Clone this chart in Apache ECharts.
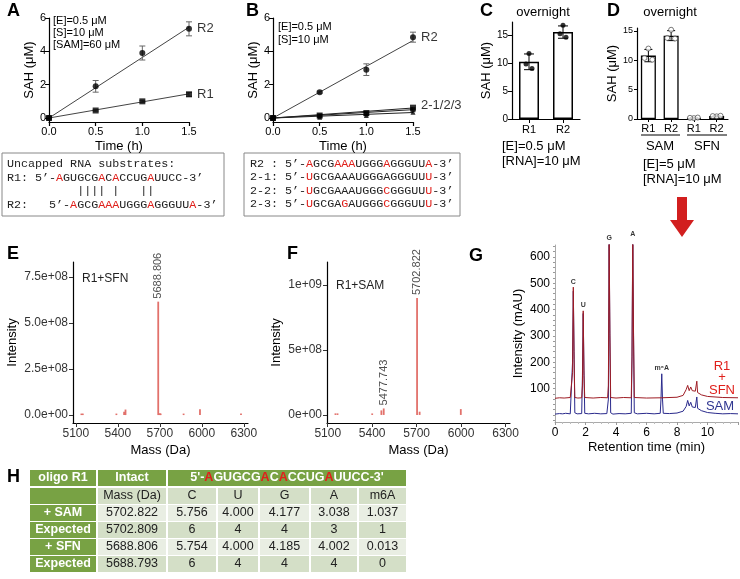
<!DOCTYPE html>
<html><head><meta charset="utf-8">
<script src="https://cdn.jsdelivr.net/npm/echarts@6/dist/echarts.min.js"></script>
<style>html,body{margin:0;padding:0;background:#fff}#c{width:740px;height:579px}</style>
</head><body><div id="c"></div>
<script>
// ---------------- DATA ----------------
const timeH = [0, 0.5, 1.0, 1.5];
const fitT = [0, 1.5];
// Panel A
const aR2 = [0, 1.9, 3.9, 5.35];
const aR2Err = [0, 0.35, 0.42, 0.42];
const aR1 = [0, 0.45, 1.0, 1.42];
const aR1Err = [0, 0.04, 0.06, 0.12];
const aFitR2 = [0, 5.45];
const aFitR1 = [0, 1.45];
// Panel B
const bR2 = [0, 1.55, 2.9, 4.85];
const bR2Err = [0, 0.06, 0.35, 0.3];
const b21 = [0, 0.15, 0.3, 0.62];
const b22 = [0, 0.12, 0.25, 0.5];
const b23 = [0, 0.05, 0.15, 0.35];
const bFitR2 = [0, 4.65];
const bFit21 = [0, 0.6];
const bFit22 = [0, 0.5];
const bFit23 = [0, 0.33];
// Panel C
const cCats = ['R1', 'R2'];
const cMean = [10.2, 15.5];
const cSD = [1.4, 1.1];
const cReps = [[11.7, 9.8, 9.0], [16.7, 15.2, 14.6]];
// Panel D
const dGroups = ['SAM', 'SFN'];
const dCats = ['SAM R1', 'SAM R2', 'SFN R1', 'SFN R2'];
const dMean = [10.8, 14.2, 0.2, 0.5];
const dSD = [1.05, 0.85, 0.05, 0.06];
const dReps = [[12.0, 10.4, 10.1], [15.2, 13.8, 13.7], [0.15, 0.2, 0.25], [0.45, 0.5, 0.55]];
// Panel E (R1+SFN) mass spectrum peaks [mass, intensity]
const ePeaks = [[5140, 7e6], [5150, 7e6], [5390, 5e6], [5445, 1.8e7], [5455, 3.0e7], [5688.806, 6.15e8],
  [5700, 1.0e7], [5706, 8e6], [5870, 5e6], [5987, 3.2e7], [6280, 5e6]];
const eLabels = [[5688.806, 6.15e8, '5688.806']];
// Panel F (R1+SAM)
const fPeaks = [[5152, 1.2e7], [5166, 1.2e7], [5400, 6e6], [5462, 3.5e7], [5477.743, 5.0e7], [5702.822, 9.0e8],
  [5720, 2.5e7], [5998, 4.5e7]];
const fLabels = [[5702.822, 9.0e8, '5702.822'], [5477.743, 5.0e7, '5477.743']];
const massTicks = [5100, 5400, 5700, 6000, 6300];
// Panel G chromatograms [time (min), intensity (mAU)]
const gSAM = [[0,3],[0.3,5],[0.5,4],[0.7,6],[1.0,4],[1.1,6],[1.15,200],[1.2,470],[1.25,240],[1.3,8],[1.45,4],
  [1.75,5],[1.8,150],[1.85,385],[1.9,170],[1.95,6],[2.2,4],[2.6,6],[3.0,4],[3.4,5],[3.5,60],[3.55,660],[3.6,300],
  [3.65,8],[3.8,3],[4.2,5],[4.6,4],[5.0,6],[5.05,220],[5.1,670],[5.15,300],[5.2,8],[5.4,4],[6.0,6],[6.5,4],[6.9,6],
  [6.95,60],[7.0,156],[7.05,60],[7.1,6],[7.5,5],[8.0,7],[8.4,14],[8.6,32],[8.7,55],[8.8,34],[8.9,48],[9.0,30],
  [9.1,36],[9.2,28],[9.3,68],[9.35,25],[9.6,16],[10.0,9],[10.5,6],[11.0,4],[11.5,5],[12.0,4]];
const gSFN = [[0,63],[0.3,65],[0.6,64],[1.0,66],[1.1,65],[1.15,160],[1.2,485],[1.25,210],[1.3,66],[1.5,64],
  [1.75,65],[1.8,110],[1.85,395],[1.9,150],[1.95,66],[2.5,64],[3.0,66],[3.45,65],[3.5,110],[3.55,680],[3.6,310],
  [3.65,66],[4.0,64],[4.5,66],[5.0,65],[5.05,220],[5.1,690],[5.15,310],[5.2,66],[6.0,64],[7.0,65],[8.0,67],
  [8.4,74],[8.6,96],[8.7,112],[8.8,92],[8.9,106],[9.0,92],[9.1,96],[9.2,90],[9.3,128],[9.35,85],[9.6,76],
  [10.0,70],[11.0,66],[12.0,65]];
const gPeakLabels = [[1.2, 485, 'C'], [1.85, 395, 'U'], [3.55, 650, 'G'], [5.1, 665, 'A'], [7.0, 156, 'm⁶A']];
// Panel H table
const tblTop = ['oligo R1', 'Intact'];
const tblSeq = 'AGUGCGACACCUGAUUCC';
const tblSeqRed = [0, 6, 8, 13];
const tblHead = ['', 'Mass (Da)', 'C', 'U', 'G', 'A', 'm6A'];
const tblRowLabels = ['+ SAM', 'Expected', '+ SFN', 'Expected'];
const tblMass = ['5702.822', '5702.809', '5688.806', '5688.793'];
const tblC = ['5.756', '6', '5.754', '6'];
const tblU = ['4.000', '4', '4.000', '4'];
const tblG = ['4.177', '4', '4.185', '4'];
const tblA = ['3.038', '3', '4.002', '4'];
const tblM6A = ['1.037', '1', '0.013', '0'];
// Sequences (boxes)
const seqR1 = 'AGUGCGACACCUGAUUCC', redR1 = [0, 6, 8, 13];
const seqR2 = 'AGCGAAAUGGGAGGGUUA', redR2 = [0, 4, 5, 6, 11, 17];
const seq21 = 'UGCGAAAUGGGAGGGUUU', red21 = [0, 17];
const seq22 = 'UGCGAAAUGGGCGGGUUU', red22 = [0, 11, 17];
const seq23 = 'UGCGAGAUGGGCGGGUUU', red23 = [0, 5, 11, 17];

// ---------------- STYLE / HELPERS ----------------
const FONT = 'Liberation Sans';
const RED = '#e0201b';
const MONO = '11.7px "Liberation Mono"';
const jitter = [0, -3, 3];

function pairs(xs, ys) { return xs.map((x, i) => [x, ys[i]]); }
function triples(xs, ys, es) { return xs.map((x, i) => [x, ys[i], es[i]]); }

function gpX(grid, extra) {
  return Object.assign({
    gridIndex: grid, type: 'value',
    axisLine: { show: true, onZero: false, lineStyle: { color: '#000', width: 1.2 } },
    axisTick: { show: true, length: 4, lineStyle: { color: '#000', width: 1.2 } },
    axisLabel: { color: '#000', fontSize: 11, fontFamily: FONT, margin: 4 },
    splitLine: { show: false },
    nameTextStyle: { color: '#000', fontSize: 13, fontFamily: FONT }
  }, extra);
}

function errRender(color, cap) {
  return function (params, api) {
    const x = api.value(0), y = api.value(1), e = api.value(2);
    if (!e) return null;
    const t = api.coord([x, y + e]), b = api.coord([x, y - e]);
    const st = { stroke: color, lineWidth: 1 };
    return { type: 'group', children: [
      { type: 'line', shape: { x1: t[0], y1: t[1], x2: b[0], y2: b[1] }, style: st },
      { type: 'line', shape: { x1: t[0] - cap, y1: t[1], x2: t[0] + cap, y2: t[1] }, style: st },
      { type: 'line', shape: { x1: b[0] - cap, y1: b[1], x2: b[0] + cap, y2: b[1] }, style: st }
    ] };
  };
}

function stickRender(params, api) {
  const p0 = api.coord([api.value(0), 0]);
  const p1 = api.coord([api.value(0), api.value(1)]);
  const h = Math.max(p0[1] - p1[1], 1.5);
  return { type: 'rect', shape: { x: p0[0] - 0.9, y: p0[1] - h, width: 1.8, height: h }, style: { fill: '#e2716b' } };
}

function sci(digits) {
  return function (v) {
    return v.toExponential(digits).replace(/e([+-])(\d)$/, 'e$10$2');
  };
}

function richSeq(prefix, seq, red, suffix) {
  let s = prefix;
  for (let i = 0; i < seq.length; i++) s += red.indexOf(i) >= 0 ? '{r|' + seq[i] + '}' : seq[i];
  return s + suffix;
}

function txt(x, y, text, font, fill, align, valign, rot) {
  return { type: 'text', x: x, y: y, rotation: rot || 0,
    style: { text: text, font: font, fill: fill || '#000', align: align || 'left', textAlign: align || 'left',
      verticalAlign: valign || 'middle', textVerticalAlign: valign || 'middle' } };
}
function richTxt(x, y, text, font, fill, redFont, align) {
  return { type: 'text', x: x, y: y,
    style: { text: text, font: font, fill: fill, align: align || 'left', textAlign: align || 'left',
      verticalAlign: 'middle', textVerticalAlign: 'middle', rich: { r: { fill: RED, font: redFont || font } } } };
}

// ---------------- GRAPHIC ----------------
const graphics = [];
const LET = 'bold 18px "Liberation Sans"';
graphics.push(txt(7, 11, 'A', LET), txt(246, 11, 'B', LET), txt(480, 11, 'C', LET), txt(607, 11, 'D', LET),
  txt(7, 254, 'E', LET), txt(287, 254, 'F', LET), txt(469, 256, 'G', LET), txt(7, 477, 'H', LET));
const SM = '11px "Liberation Sans"';
graphics.push(txt(53, 21, '[E]=0.5 μM', SM), txt(53, 33, '[S]=10 μM', SM), txt(53, 45, '[SAM]=60 μM', SM));
graphics.push(txt(278, 27, '[E]=0.5 μM', SM), txt(278, 40, '[S]=10 μM', SM));
const MD = '13px "Liberation Sans"';
graphics.push(txt(543, 12, 'overnight', MD, '#000', 'center'), txt(670, 12, 'overnight', MD, '#000', 'center'));
graphics.push(txt(502, 146, '[E]=0.5 μM', MD), txt(502, 161, '[RNA]=10 μM', MD));
graphics.push(txt(643, 164, '[E]=5 μM', MD), txt(643, 179, '[RNA]=10 μM', MD));
// D group underlines and labels
graphics.push({ type: 'line', shape: { x1: 641, y1: 135, x2: 680, y2: 135 }, style: { stroke: '#000', lineWidth: 1 } });
graphics.push({ type: 'line', shape: { x1: 687, y1: 135, x2: 727, y2: 135 }, style: { stroke: '#000', lineWidth: 1 } });
graphics.push(txt(660, 146, dGroups[0], MD, '#000', 'center'), txt(707, 146, dGroups[1], MD, '#000', 'center'));
// Red arrow
graphics.push({ type: 'polygon', shape: { points: [[677, 197], [687, 197], [687, 220], [694, 220], [682, 237], [670, 220], [677, 220]] },
  style: { fill: '#d21f1f' } });
// Sequence boxes
graphics.push({ type: 'rect', shape: { x: 2, y: 153, width: 222, height: 63 }, style: { fill: 'none', stroke: '#888', lineWidth: 1 } });
graphics.push({ type: 'rect', shape: { x: 244, y: 153, width: 216, height: 63 }, style: { fill: 'none', stroke: '#888', lineWidth: 1 } });
graphics.push(txt(7, 164, 'Uncapped RNA substrates:', MONO, '#222'));
graphics.push(richTxt(7, 178, richSeq('R1: 5’-', seqR1, redR1, '-3’'), MONO, '#222'));
graphics.push(txt(7, 191, '          |||| |   ||', MONO, '#222'));
graphics.push(richTxt(7, 205, richSeq('R2:   5’-', seqR2, redR2, '-3’'), MONO, '#222'));
graphics.push(richTxt(250, 164, richSeq('R2 : 5’-', seqR2, redR2, '-3’'), MONO, '#222'));
graphics.push(richTxt(250, 177, richSeq('2-1: 5’-', seq21, red21, '-3’'), MONO, '#222'));
graphics.push(richTxt(250, 191, richSeq('2-2: 5’-', seq22, red22, '-3’'), MONO, '#222'));
graphics.push(richTxt(250, 204, richSeq('2-3: 5’-', seq23, red23, '-3’'), MONO, '#222'));
// E / F sample labels
graphics.push(txt(82, 279, 'R1+SFN', '12px "Liberation Sans"', '#222'));
graphics.push(txt(336, 286, 'R1+SAM', '12px "Liberation Sans"', '#222'));
// G legend text
graphics.push(txt(722, 366, 'R1', MD, RED, 'center'), txt(722, 377, '+', MD, RED, 'center'),
  txt(722, 390, 'SFN', MD, RED, 'center'), txt(720, 406, 'SAM', MD, '#2f3590', 'center'));
// Table H
(function () {
  const cols = [29, 97, 167, 217, 259, 310, 358, 407];
  const rowsY = [470, 488, 505, 522, 539, 556];
  const rh = 16;
  const DARK = '#78a244', L1 = '#d4dfc7', L2 = '#e9eee3';
  const BF = 'bold 12.5px "Liberation Sans"', NF = '12.5px "Liberation Sans"';
  function cell(c0, c1, r, fill) {
    graphics.push({ type: 'rect', shape: { x: cols[c0] + 1, y: rowsY[r], width: cols[c1] - cols[c0] - 2, height: rh }, style: { fill: fill } });
  }
  cell(0, 1, 0, DARK); cell(1, 2, 0, DARK); cell(2, 7, 0, DARK);
  graphics.push(txt((cols[0] + cols[1]) / 2, rowsY[0] + 8, tblTop[0], BF, '#fff', 'center'));
  graphics.push(txt((cols[1] + cols[2]) / 2, rowsY[0] + 8, tblTop[1], BF, '#fff', 'center'));
  graphics.push(richTxt((cols[2] + cols[7]) / 2, rowsY[0] + 8, richSeq("5'-", tblSeq, tblSeqRed, "-3'"), BF, '#fff', BF, 'center'));
  for (let c = 0; c < 7; c++) {
    cell(c, c + 1, 1, c === 0 ? DARK : L1);
    if (tblHead[c]) graphics.push(txt((cols[c] + cols[c + 1]) / 2, rowsY[1] + 8, tblHead[c], NF, '#222', 'center'));
  }
  const colsData = [tblMass, tblC, tblU, tblG, tblA, tblM6A];
  for (let r = 0; r < 4; r++) {
    const fill = r % 2 === 0 ? L2 : L1;
    cell(0, 1, r + 2, DARK);
    graphics.push(txt((cols[0] + cols[1]) / 2, rowsY[r + 2] + 8, tblRowLabels[r], BF, '#fff', 'center'));
    for (let c = 0; c < 6; c++) {
      cell(c + 1, c + 2, r + 2, fill);
      graphics.push(txt((cols[c + 1] + cols[c + 2]) / 2, rowsY[r + 2] + 8, colsData[c][r], NF, '#222', 'center'));
    }
  }
})();

// ---------------- AXES ----------------
const fmt1 = v => v.toFixed(1);
const plain = v => String(v);
const ggLine = { show: true, onZero: false, lineStyle: { color: '#000', width: 1.2 } };
const ggTick = { show: true, length: 4, lineStyle: { color: '#333', width: 1 } };
const ggLab = { color: '#333', fontSize: 12, fontFamily: FONT, margin: 5 };
const ggName = { color: '#000', fontSize: 13, fontFamily: FONT };
const gLine = { show: true, onZero: false, lineStyle: { color: '#aaa', width: 1 } };

const xAxes = [
  gpX(0, { min: 0, max: 1.5, interval: 0.5, axisLabel: { color: '#000', fontSize: 11, fontFamily: FONT, margin: 4, formatter: fmt1 },
    name: 'Time (h)', nameLocation: 'middle', nameGap: 18 }),
  gpX(1, { min: 0, max: 1.5, interval: 0.5, axisLabel: { color: '#000', fontSize: 11, fontFamily: FONT, margin: 4, formatter: fmt1 },
    name: 'Time (h)', nameLocation: 'middle', nameGap: 18 }),
  gpX(2, { type: 'category', data: cCats, axisTick: { show: true, alignWithLabel: true, length: 4, lineStyle: { color: '#000' } },
    axisLabel: { color: '#000', fontSize: 11, fontFamily: FONT, margin: 5 } }),
  gpX(3, { type: 'category', data: dCats, axisTick: { show: true, alignWithLabel: true, length: 3, lineStyle: { color: '#000' } },
    axisLabel: { color: '#000', fontSize: 11, fontFamily: FONT, margin: 4, interval: 0, formatter: v => v.split(' ')[1] } }),
  { gridIndex: 4, type: 'value', min: 5080, max: 6330, axisLine: ggLine, axisTick: Object.assign({ customValues: massTicks }, ggTick),
    axisLabel: Object.assign({ customValues: massTicks, formatter: plain }, ggLab), splitLine: { show: false },
    name: 'Mass (Da)', nameLocation: 'middle', nameGap: 21, nameTextStyle: ggName },
  { gridIndex: 5, type: 'value', min: 5095, max: 6330, axisLine: ggLine, axisTick: Object.assign({ customValues: massTicks }, ggTick),
    axisLabel: Object.assign({ customValues: massTicks, formatter: plain }, ggLab), splitLine: { show: false },
    name: 'Mass (Da)', nameLocation: 'middle', nameGap: 21, nameTextStyle: ggName },
  { gridIndex: 6, type: 'value', min: 0, max: 12, interval: 2, axisLine: gLine,
    axisTick: { show: true, length: 3, lineStyle: { color: '#999' } }, minorTick: { show: true, splitNumber: 4, length: 2, lineStyle: { color: '#bbb' } },
    axisLabel: { customValues: [0, 2, 4, 6, 8, 10], color: '#000', fontSize: 12, fontFamily: FONT, margin: 5 }, splitLine: { show: false },
    name: 'Retention time (min)', nameLocation: 'middle', nameGap: 19, nameTextStyle: ggName }
];
const gTicks = [];
for (let v = -20; v <= 640; v += 20) gTicks.push(v);
const yAxes = [
  gpX(0, { min: -0.24, max: 6, axisTick: { show: true, length: 4, customValues: [0, 2, 4, 6], lineStyle: { color: '#000' } },
    axisLabel: { customValues: [0, 2, 4, 6], color: '#000', fontSize: 11, fontFamily: FONT, margin: 3 },
    name: 'SAH (μM)', nameLocation: 'middle', nameGap: 13 }),
  gpX(1, { min: -0.24, max: 6, axisTick: { show: true, length: 4, customValues: [0, 2, 4, 6], lineStyle: { color: '#000' } },
    axisLabel: { customValues: [0, 2, 4, 6], color: '#000', fontSize: 11, fontFamily: FONT, margin: 3 },
    name: 'SAH (μM)', nameLocation: 'middle', nameGap: 13 }),
  gpX(2, { min: 0, max: 17.3, axisTick: { show: true, length: 4, customValues: [0, 5, 10, 15], lineStyle: { color: '#000' } },
    axisLabel: { customValues: [0, 5, 10, 15], color: '#000', fontSize: 10, fontFamily: FONT, margin: 4 },
    name: 'SAH (μM)', nameLocation: 'middle', nameGap: 16 }),
  gpX(3, { min: 0, max: 15.5, axisTick: { show: true, length: 3, customValues: [0, 5, 10, 15], lineStyle: { color: '#000' } },
    axisLabel: { customValues: [0, 5, 10, 15], color: '#000', fontSize: 9, fontFamily: FONT, margin: 4 },
    name: 'SAH (μM)', nameLocation: 'middle', nameGap: 17 }),
  { gridIndex: 4, type: 'value', min: -4.3e7, max: 8.3e8, axisLine: ggLine,
    axisTick: Object.assign({ customValues: [0, 2.5e8, 5e8, 7.5e8] }, ggTick),
    axisLabel: Object.assign({ customValues: [0, 2.5e8, 5e8, 7.5e8], formatter: sci(1) }, ggLab), splitLine: { show: false },
    name: 'Intensity', nameLocation: 'middle', nameGap: 54, nameTextStyle: ggName },
  { gridIndex: 5, type: 'value', min: -6.2e7, max: 1.177e9, axisLine: ggLine,
    axisTick: Object.assign({ customValues: [0, 5e8, 1e9] }, ggTick),
    axisLabel: Object.assign({ customValues: [0, 5e8, 1e9], formatter: sci(0) }, ggLab), splitLine: { show: false },
    name: 'Intensity', nameLocation: 'middle', nameGap: 44, nameTextStyle: ggName },
  { gridIndex: 6, type: 'value', min: -27, max: 645, axisLine: gLine,
    axisTick: { show: true, length: 2, customValues: gTicks, lineStyle: { color: '#999' } },
    axisLabel: { customValues: [100, 200, 300, 400, 500, 600], color: '#000', fontSize: 12, fontFamily: FONT, margin: 5 },
    splitLine: { show: false },
    name: 'Intensity (mAU)', nameLocation: 'middle', nameGap: 30, nameTextStyle: ggName }
];

// ---------------- SERIES ----------------
const series = [];
function fitLine(ax, ys, color) {
  series.push({ type: 'line', xAxisIndex: ax, yAxisIndex: ax, data: pairs(fitT, ys), symbol: 'none',
    lineStyle: { color: color || '#444', width: 1 }, z: 2, silent: true });
}
function errSeries(ax, ys, es, color, cap) {
  series.push({ type: 'custom', xAxisIndex: ax, yAxisIndex: ax, data: triples(timeH, ys, es), renderItem: errRender(color, cap), z: 3 });
}
function pts(ax, ys, symbol, size, label, labelOffY) {
  const d = pairs(timeH, ys).map((p, i) => {
    const o = { value: p };
    if (label && i === ys.length - 1) o.label = { show: true, position: 'right', distance: 5, offset: [0, labelOffY || 0],
      formatter: label, color: '#000', fontSize: 13, fontFamily: FONT };
    return o;
  });
  series.push({ type: 'scatter', xAxisIndex: ax, yAxisIndex: ax, data: d, symbol: symbol, symbolSize: size,
    itemStyle: { color: '#000' }, z: 4 });
}
// A
fitLine(0, aFitR2); fitLine(0, aFitR1);
errSeries(0, aR2, aR2Err, '#666', 3); errSeries(0, aR1, aR1Err, '#666', 3);
pts(0, aR2, 'circle', 6, 'R2'); pts(0, aR1, 'rect', 6, 'R1');
// B
fitLine(1, bFitR2); fitLine(1, bFit21, '#222'); fitLine(1, bFit22, '#222'); fitLine(1, bFit23, '#222');
errSeries(1, bR2, bR2Err, '#666', 3);
pts(1, bR2, 'circle', 6, 'R2'); pts(1, b21, 'rect', 6, '2-1/2/3', -2); pts(1, b22, 'rect', 5); pts(1, b23, 'triangle', 5);
// C
series.push({ type: 'bar', xAxisIndex: 2, yAxisIndex: 2, data: cMean, barWidth: 20,
  itemStyle: { color: '#fff', borderColor: '#000', borderWidth: 1.5 }, z: 2 });
series.push({ type: 'custom', xAxisIndex: 2, yAxisIndex: 2, data: cMean.map((m, i) => [i, m, cSD[i]]), renderItem: errRender('#000', 5), z: 3 });
series.push({ type: 'scatter', xAxisIndex: 2, yAxisIndex: 2, symbolSize: 5, itemStyle: { color: '#000' }, z: 4,
  data: [].concat.apply([], cReps.map((arr, i) => arr.map((v, j) => ({ value: [i, v], symbolOffset: [jitter[j], 0] })))) });
// D
series.push({ type: 'bar', xAxisIndex: 3, yAxisIndex: 3, data: dMean, barWidth: 15,
  itemStyle: { color: '#fff', borderColor: '#000', borderWidth: 1.3 }, z: 2 });
series.push({ type: 'custom', xAxisIndex: 3, yAxisIndex: 3, data: dMean.map((m, i) => [i, m, dSD[i]]), renderItem: errRender('#000', 4), z: 3 });
series.push({ type: 'scatter', xAxisIndex: 3, yAxisIndex: 3, symbol: 'circle', symbolSize: 5,
  itemStyle: { color: '#fff', borderColor: '#333', borderWidth: 0.8 }, z: 4,
  data: [].concat.apply([], dReps.map((arr, i) => arr.map((v, j) => ({ value: [i, v], symbolOffset: [jitter[j] * 1.3, 0] })))) });
// E
series.push({ type: 'custom', xAxisIndex: 4, yAxisIndex: 4, data: ePeaks, renderItem: stickRender, clip: true });
series.push({ type: 'scatter', xAxisIndex: 4, yAxisIndex: 4, data: eLabels, symbolSize: 0, clip: false,
  label: { show: true, position: 'top', rotate: 90, align: 'left', verticalAlign: 'middle', distance: 3,
    formatter: p => p.data[2], color: '#222', fontSize: 11, fontFamily: FONT } });
// F
series.push({ type: 'custom', xAxisIndex: 5, yAxisIndex: 5, data: fPeaks, renderItem: stickRender, clip: true });
series.push({ type: 'scatter', xAxisIndex: 5, yAxisIndex: 5, data: fLabels, symbolSize: 0, clip: false,
  label: { show: true, position: 'top', rotate: 90, align: 'left', verticalAlign: 'middle', distance: 3,
    formatter: p => p.data[2], color: '#222', fontSize: 11, fontFamily: FONT } });
// G
series.push({ type: 'line', xAxisIndex: 6, yAxisIndex: 6, data: gSAM, symbol: 'none', clip: true,
  lineStyle: { color: '#2a2a8c', width: 1 }, z: 2 });
series.push({ type: 'line', xAxisIndex: 6, yAxisIndex: 6, data: gSFN, symbol: 'none', clip: true,
  lineStyle: { color: '#9e1c24', width: 1 }, z: 3 });
series.push({ type: 'scatter', xAxisIndex: 6, yAxisIndex: 6, data: gPeakLabels, symbolSize: 0, clip: false,
  label: { show: true, position: 'top', distance: 2, formatter: p => p.data[2], color: '#000', fontSize: 7, fontWeight: 'bold', fontFamily: FONT } });

const grids = [
  { left: 49, top: 18, width: 140, height: 104 },
  { left: 273, top: 18, width: 140, height: 104 },
  { left: 512, top: 22, width: 68, height: 97 },
  { left: 637, top: 28, width: 91, height: 91 },
  { left: 73, top: 262, width: 175, height: 161 },
  { left: 327, top: 262, width: 183, height: 161 },
  { left: 555, top: 245, width: 183, height: 177 }
].map(g => Object.assign({ containLabel: false, outerBoundsMode: 'none' }, g));

const chart = echarts.init(document.getElementById('c'), null, { renderer: 'canvas', width: 740, height: 579 });
chart.setOption({
  animation: false,
  backgroundColor: '#fff',
  textStyle: { fontFamily: FONT },
  grid: grids,
  xAxis: xAxes,
  yAxis: yAxes,
  series: series,
  graphic: graphics
});
</script></body></html>
